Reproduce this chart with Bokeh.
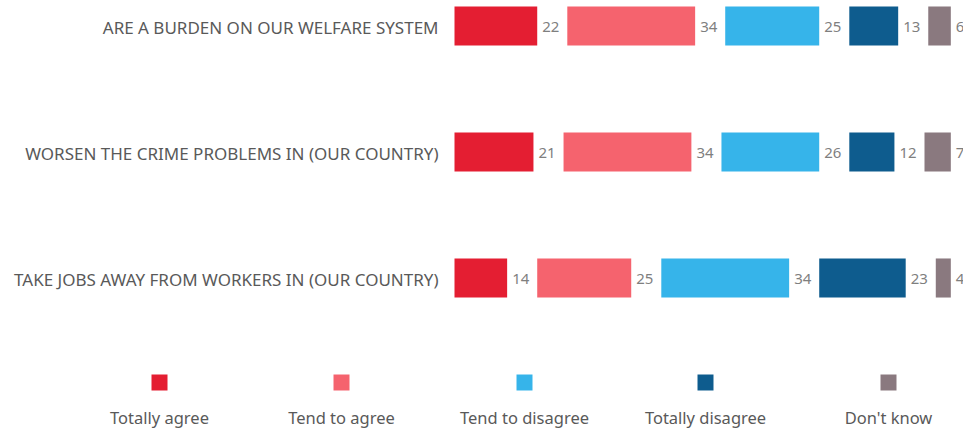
from bokeh.plotting import figure
from bokeh.models import ColumnDataSource, Range1d
from bokeh.core.properties import value
from bokeh.embed import file_html
from bokeh.resources import INLINE

categories = [
    "ARE A BURDEN ON OUR WELFARE SYSTEM",
    "WORSEN THE CRIME PROBLEMS IN (OUR COUNTRY)",
    "TAKE JOBS AWAY FROM WORKERS IN (OUR COUNTRY)",
]
series_names = ["Totally agree", "Tend to agree", "Tend to disagree", "Totally disagree", "Don't know"]
totally_agree = [22, 21, 14]
tend_to_agree = [34, 34, 25]
tend_to_disagree = [25, 26, 34]
totally_disagree = [13, 12, 23]
dont_know = [6, 7, 4]
colors = ["#E41E32", "#F5636E", "#36B4EA", "#0E5C8E", "#8A797F"]

series_values = [totally_agree, tend_to_agree, tend_to_disagree, totally_disagree, dont_know]

W, H = 963, 432
SCALE = 3.76       # px per percentage point
ORIGIN = 454       # px where bars start
GAP = 8            # gap between segments (in value units, space for labels)
ROW_PX = 126.0
TOP_PX = 25.5

FONT = value("Noto Sans")

p = figure(width=W, height=H, output_backend="svg", toolbar_location=None,
           x_range=Range1d(-ORIGIN / SCALE, (W - ORIGIN) / SCALE),
           y_range=Range1d((H - TOP_PX) / ROW_PX, -TOP_PX / ROW_PX),
           min_border=0, outline_line_color=None)
p.axis.visible = False
p.grid.visible = False
p.background_fill_color = "white"
p.border_fill_color = "white"

rows = list(range(len(categories)))
lefts = [0.0] * len(categories)
for name, vals, col in zip(series_names, series_values, colors):
    rights = [l + v for l, v in zip(lefts, vals)]
    src = ColumnDataSource(dict(y=rows, left=lefts, right=rights,
                                lab=[str(v) for v in vals]))
    p.hbar(y="y", left="left", right="right", height=0.31, source=src,
           fill_color=col, line_color=None)
    p.text(x="right", y="y", text="lab", source=src, x_offset=5, y_offset=1,
           text_align="left", text_baseline="middle", text_font=FONT,
           text_font_size="15px", text_color="#7F7F7F")
    lefts = [r + GAP for r in rights]

cat_src = ColumnDataSource(dict(x=[0] * len(categories), y=rows, text=categories))
p.text(x="x", y="y", text="text", source=cat_src, x_offset=-16, y_offset=1,
       text_align="right", text_baseline="middle", text_font=FONT,
       text_font_size="17px", text_color="#595959")

# manual legend (layout positions in px converted to data units)
legend_px = [159, 341, 524, 705, 888]
lx = [(px - ORIGIN) / SCALE for px in legend_px]
sq_y = (382 - TOP_PX) / ROW_PX
tx_y = (417 - TOP_PX) / ROW_PX
leg_src = ColumnDataSource(dict(x=lx, ys=[sq_y] * 5, yt=[tx_y] * 5,
                                name=series_names, color=colors))
p.scatter(x="x", y="ys", source=leg_src, marker="square", size=16,
          fill_color="color", line_color=None)
p.text(x="x", y="yt", text="name", source=leg_src, text_align="center",
       text_baseline="middle", text_font=FONT, text_font_size="16.5px",
       text_color="#595959")

open("out.html", "w").write(file_html(p, INLINE))
